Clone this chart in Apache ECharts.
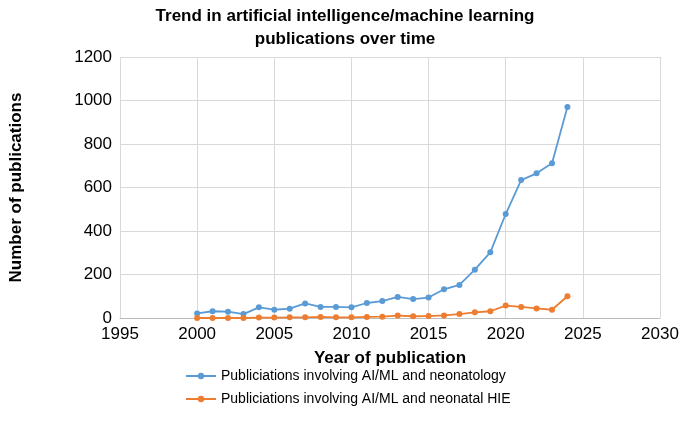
<!DOCTYPE html>
<html><head><meta charset="utf-8">
<script src="https://cdn.jsdelivr.net/npm/echarts@6/dist/echarts.min.js"></script>
<style>html,body{margin:0;background:#fff}#c{width:685px;height:435px}</style>
</head><body><div id="c"></div>
<script>
var years = [2000,2001,2002,2003,2004,2005,2006,2007,2008,2009,2010,2011,2012,2013,2014,2015,2016,2017,2018,2019,2020,2021,2022,2023,2024];
var neonatology = [21,31,29,18,49,38,43,67,51,51,49,69,78,97,87,94,132,152,222,302,478,634,665,711,970];
var hie = [0,0,0,0,2,2,3,3,5,3,3,5,6,11,8,9,12,18,26,31,57,51,44,38,100];
var names = ["Publiciations involving AI/ML and neonatology", "Publiciations involving AI/ML and neonatal HIE"];

function pairs(v) { return years.map(function (y, i) { return [y, v[i]]; }); }
var F = "Helvetica, Arial, 'Liberation Sans', sans-serif";
var chart = echarts.init(document.getElementById("c"));
chart.setOption({
  animation: false,
  textStyle: { fontFamily: F },
  title: {
    text: "Trend in artificial intelligence/machine learning\npublications over time",
    left: 340, top: 0, textAlign: "center",
    textStyle: { fontSize: 17, fontWeight: "bold", color: "#000", lineHeight: 23, fontFamily: F }
  },
  grid: { left: 117, right: 25, top: 57, bottom: 117 },
  legend: {
    orient: "vertical", left: 180, top: 364, itemGap: 9, itemWidth: 30, itemHeight: 8,
    textStyle: { fontSize: 14, color: "#000", fontFamily: F },
    data: names
  },
  xAxis: {
    type: "value", min: 1995, max: 2030, interval: 5,
    name: "Year of publication", nameLocation: "middle", nameGap: 32,
    nameTextStyle: { fontSize: 17, fontWeight: "bold", color: "#000" },
    axisLabel: { fontSize: 17, color: "#000", formatter: function (v) { return String(v); } },
    axisLine: { lineStyle: { color: "#bbb" } }, axisTick: { show: false },
    splitLine: { lineStyle: { color: "#d9d9d9" } }
  },
  yAxis: {
    type: "value", min: 0, max: 1200, interval: 200,
    name: "Number of publications", nameLocation: "middle", nameGap: 95,
    nameTextStyle: { fontSize: 17, fontWeight: "bold", color: "#000" },
    axisLabel: { fontSize: 17, color: "#000", formatter: function (v) { return String(v); } },
    axisLine: { show: false }, axisTick: { show: false },
    splitLine: { lineStyle: { color: "#d9d9d9" } }
  },
  series: [
    { name: names[0], type: "line", data: pairs(neonatology), symbol: "circle", symbolSize: 6,
      itemStyle: { color: "#5b9bd5" }, lineStyle: { width: 1.8 } },
    { name: names[1], type: "line", data: pairs(hie), symbol: "circle", symbolSize: 6,
      itemStyle: { color: "#ed7d31" }, lineStyle: { width: 1.8 } }
  ]
});
</script></body></html>
